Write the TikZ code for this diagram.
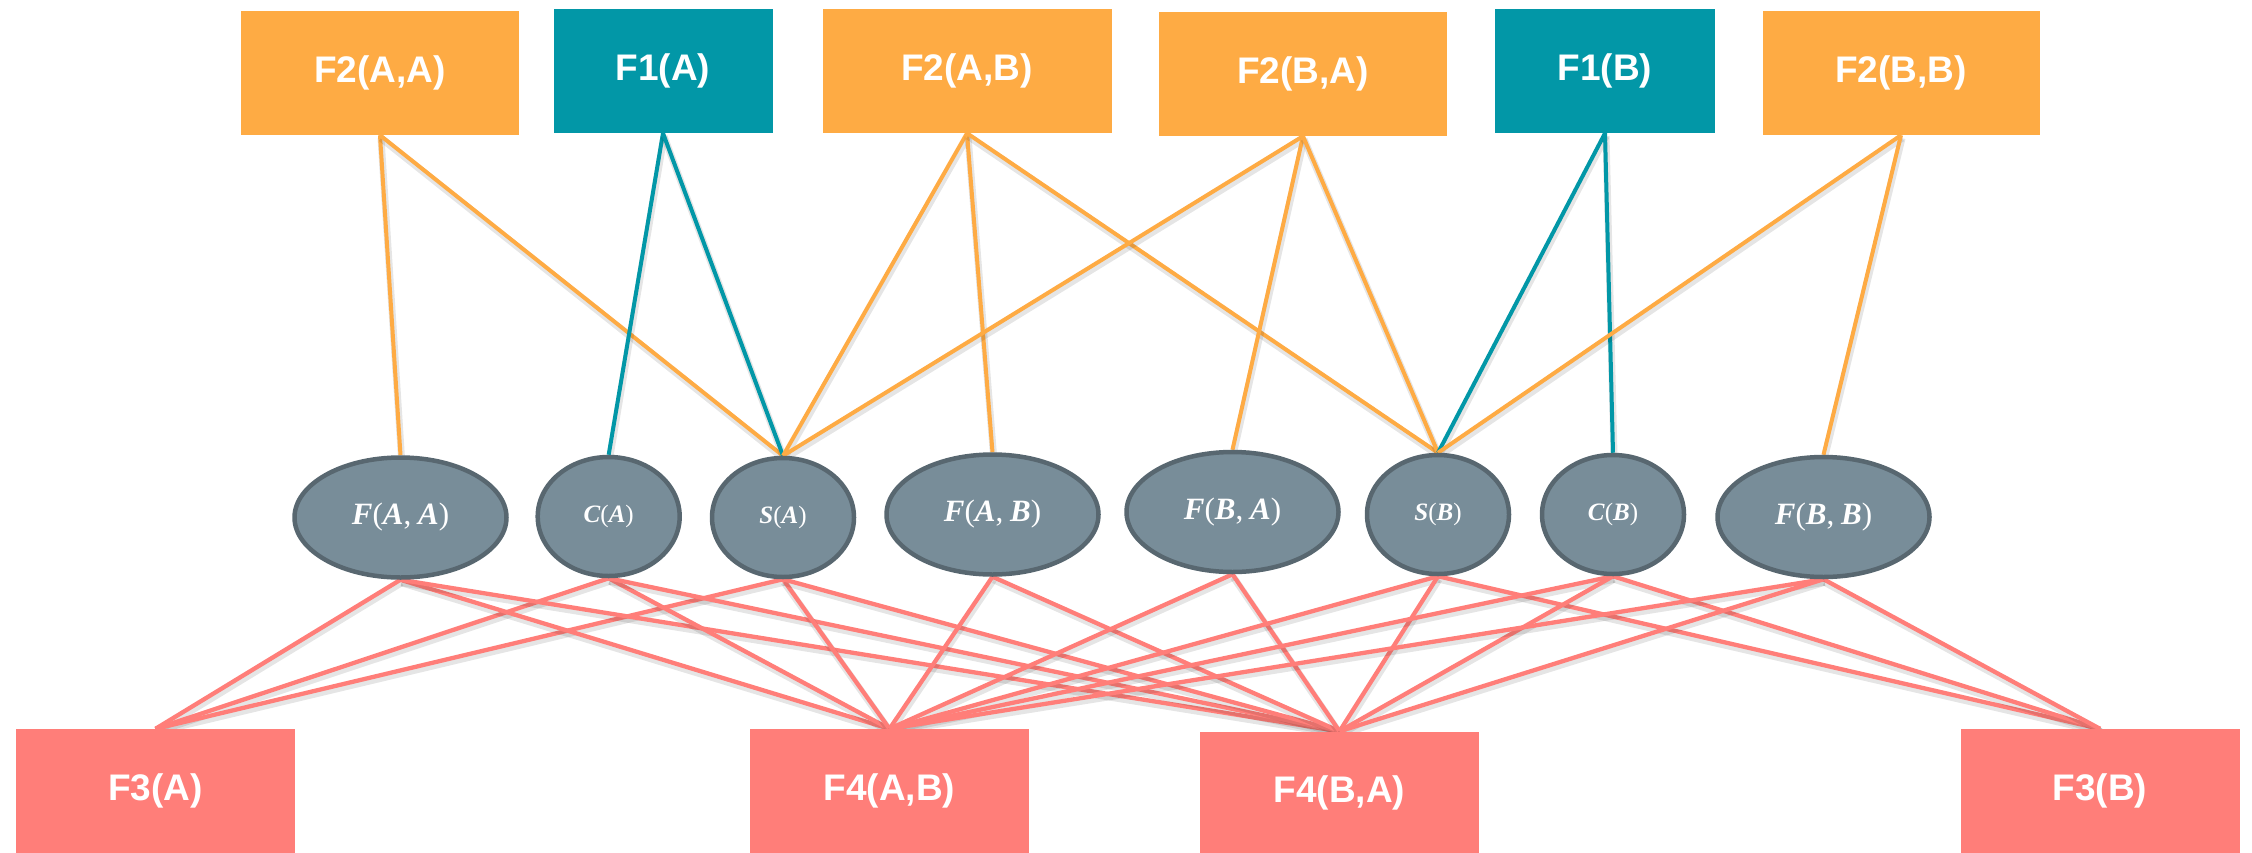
\documentclass[tikz,border=0pt]{standalone}
\usepackage{fontspec}
\setsansfont{Liberation Sans}
\newfontfamily\varfont{Liberation Serif}
\usetikzlibrary{shapes.geometric,backgrounds}

\definecolor{fOrange}{RGB}{254,171,68}
\definecolor{fTeal}{RGB}{2,151,167}
\definecolor{fSlate}{RGB}{120,141,153}
\definecolor{fSlateDark}{RGB}{88,103,112}
\definecolor{fCoral}{RGB}{255,126,121}

% bold italic variable names with upright brackets, set in a serif face
\newcommand{\vr}[1]{\textbf{\textit{#1}}}
\newcommand{\sep}{,\hspace{0.22em}}

\tikzset{
  box/.style={rectangle, inner sep=0pt, text=white,
    font=\fontsize{37}{44}\selectfont\sffamily\bfseries},
  pairbox/.style={box, fill=fOrange},
  unitbox/.style={box, fill=fTeal},
  outbox/.style={box, fill=fCoral},
  factor/.style={ellipse, inner sep=0pt, fill=fSlate, draw=fSlateDark,
    line width=4.5pt, text=white},
  bigfactor/.style={factor, minimum width=212pt, minimum height=120pt,
    font=\fontsize{31}{36}\selectfont\varfont},
  smallfactor/.style={factor, minimum width=142pt, minimum height=119pt,
    font=\fontsize{25}{30}\selectfont\varfont},
  shadowed/.style={preaction={draw=black, opacity=0.10, line width=7pt,
    transform canvas={xshift=1pt, yshift=-3pt}}},
  upedge/.style={line width=4pt, shadowed},
  pairedge/.style={upedge, draw=fOrange},
  unitedge/.style={upedge, draw=fTeal},
  downedge/.style={line width=4.3pt, draw=fCoral, shadowed}
}

\begin{document}
\begin{tikzpicture}[x=1pt, y=-1pt]
  \useasboundingbox (0,0) rectangle (2252,852);

  % top row of factor boxes
  \node[pairbox, minimum width=278pt, minimum height=124pt] (F2AA) at (380,73) {F2(A,A)};
  \node[unitbox, minimum width=219pt, minimum height=124pt] (F1A) at (663,71) {F1(A)};
  \node[pairbox, minimum width=289pt, minimum height=124pt] (F2AB) at (967,71) {F2(A,B)};
  \node[pairbox, minimum width=288pt, minimum height=124pt] (F2BA) at (1303,74) {F2(B,A)};
  \node[unitbox, minimum width=220pt, minimum height=124pt] (F1B) at (1605,71) {F1(B)};
  \node[pairbox, minimum width=277pt, minimum height=124pt] (F2BB) at (1901,73) {F2(B,B)};

  % middle row of variables
  \node[bigfactor] (FAA) at (400.5,517.5) {\vr{F}(\vr{A}\sep\vr{A})};
  \node[smallfactor] (CA) at (608.7,516.5) {\vr{C}(\vr{A})};
  \node[smallfactor] (SA) at (783,517.5) {\vr{S}(\vr{A})};
  \node[bigfactor] (FAB) at (992.5,514.5) {\vr{F}(\vr{A}\sep\vr{B})};
  \node[bigfactor] (FBA) at (1232.5,512) {\vr{F}(\vr{B}\sep\vr{A})};
  \node[smallfactor] (SB) at (1438,514.5) {\vr{S}(\vr{B})};
  \node[smallfactor] (CB) at (1613,514.5) {\vr{C}(\vr{B})};
  \node[bigfactor] (FBB) at (1823.5,517) {\vr{F}(\vr{B}\sep\vr{B})};

  % bottom row of factor boxes
  \node[outbox, minimum width=279pt, minimum height=124pt] (F3A) at (155.5,791) {F3(A)};
  \node[outbox, minimum width=279pt, minimum height=124pt] (F4AB) at (889.5,791) {F4(A,B)};
  \node[outbox, minimum width=279pt, minimum height=122pt] (F4BA) at (1339.5,792.5) {F4(B,A)};
  \node[outbox, minimum width=279pt, minimum height=124pt] (F3B) at (2100,791) {F3(B)};

  \begin{scope}[on background layer]
    % connections from the top boxes
    \draw[pairedge] (F2AA.south) -- (FAA.north);
    \draw[pairedge] (F2AA.south) -- (SA.north);
    \draw[unitedge] (F1A.south) -- (CA.north);
    \draw[unitedge] (F1A.south) -- (SA.north);
    \draw[pairedge] (F2AB.south) -- (SA.north);
    \draw[pairedge] (F2AB.south) -- (FAB.north);
    \draw[pairedge] (F2AB.south) -- (SB.north);
    \draw[pairedge] (F2BA.south) -- (SA.north);
    \draw[pairedge] (F2BA.south) -- (FBA.north);
    \draw[pairedge] (F2BA.south) -- (SB.north);
    \draw[unitedge] (F1B.south) -- (SB.north);
    \draw[unitedge] (F1B.south) -- (CB.north);
    \draw[pairedge] (F2BB.south) -- (SB.north);
    \draw[pairedge] (F2BB.south) -- (FBB.north);

    % connections to the bottom boxes
    \foreach \v in {FAA,CA,SA} {
      \draw[downedge] (\v.south) -- (F3A.north);
    }
    \foreach \v in {SB,CB,FBB} {
      \draw[downedge] (\v.south) -- (F3B.north);
    }
    \foreach \v in {FAA,CA,SA,FAB,FBA,SB,CB,FBB} {
      \draw[downedge] (\v.south) -- (F4AB.north);
      \draw[downedge] (\v.south) -- (F4BA.north);
    }
  \end{scope}
\end{tikzpicture}
\end{document}
